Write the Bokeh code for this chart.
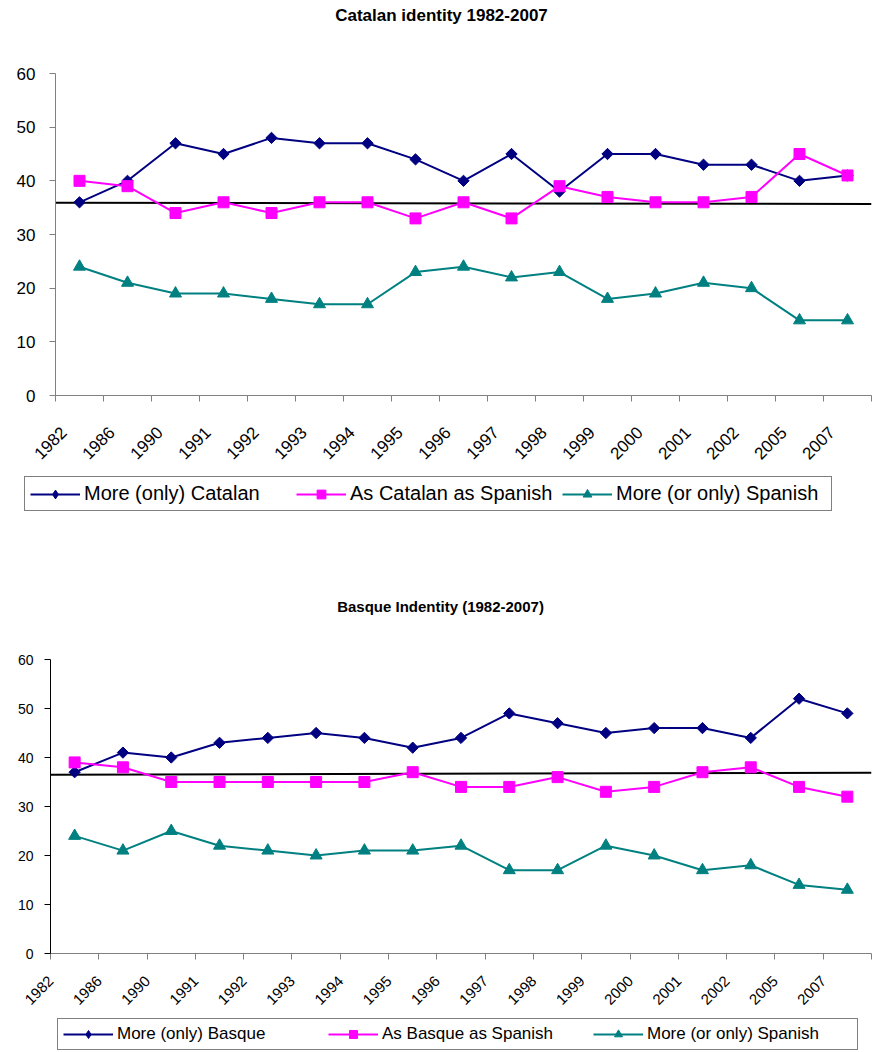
import math
from bokeh.plotting import figure
from bokeh.models import FixedTicker, Legend, LegendItem, Range1d, Label
from bokeh.layouts import column
from bokeh.embed import file_html
from bokeh.resources import INLINE

# ---------------- data ----------------
years = ["1982", "1986", "1990", "1991", "1992", "1993", "1994", "1995", "1996",
         "1997", "1998", "1999", "2000", "2001", "2002", "2005", "2007"]
y_ticks = [0, 10, 20, 30, 40, 50, 60]

cat_title = "Catalan identity 1982-2007"
cat_labels = ["More (only) Catalan", "As Catalan as Spanish", "More (or only) Spanish"]
cat_more_catalan = [36, 40, 47, 45, 48, 47, 47, 44, 40, 45, 38, 45, 45, 43, 43, 40, 41]
cat_as_catalan_as_spanish = [40, 39, 34, 36, 34, 36, 36, 33, 36, 33, 39, 37, 36, 36, 37, 45, 41]
cat_more_spanish = [24, 21, 19, 19, 18, 17, 17, 23, 24, 22, 23, 18, 19, 21, 20, 14, 14]
cat_ref_line = [35.9, 35.7]

bas_title = "Basque Indentity (1982-2007)"
bas_labels = ["More (only) Basque", "As Basque as Spanish", "More (or only) Spanish"]
bas_more_basque = [37, 41, 40, 43, 44, 45, 44, 42, 44, 49, 47, 45, 46, 46, 44, 52, 49]
bas_as_basque_as_spanish = [39, 38, 35, 35, 35, 35, 35, 37, 34, 34, 36, 33, 34, 37, 38, 34, 32]
bas_more_spanish = [24, 21, 25, 22, 21, 20, 21, 21, 22, 17, 17, 22, 20, 17, 18, 14, 13]
bas_ref_line = [36.5, 36.9]

# ---------------- styling ----------------
FONT = "Liberation Sans"
NAVY = "#000080"
MAGENTA = "#FF00FF"
TEAL = "#008080"
STYLES = [
    dict(color=NAVY, marker="square", size=8, angle=math.pi / 4, leg_marker="diamond"),
    dict(color=MAGENTA, marker="square", size=11, angle=0, leg_marker="square"),
    dict(color=TEAL, marker="triangle", size=12, angle=0, leg_marker="triangle"),
]


def blank_fig(height):
    f = figure(width=876, height=height, output_backend="svg", toolbar_location=None,
               title=None, x_range=Range1d(0, 1), y_range=Range1d(0, 1),
               x_axis_type=None, y_axis_type=None, frame_align=False,
               min_border_left=0, min_border_right=0, min_border_top=0, min_border_bottom=0)
    f.xgrid.visible = False
    f.ygrid.visible = False
    f.outline_line_color = None
    f.border_fill_color = "white"
    return f


def add_title(f, text, x, y, size):
    f.add_layout(Label(x=x, y=y, x_units="screen", y_units="screen", text=text,
                       text_align="center", text_baseline="middle",
                       text_font=FONT, text_font_style="bold",
                       text_font_size=size, text_color="black"))


def make_chart(series, ref_line, cfg):
    n = len(years)
    unit = 100
    xs = [i * unit for i in range(n)]
    bounds = [i * unit - unit // 2 for i in range(n + 1)]
    label_pos = [i * unit - unit // 2 + cfg["label_shift"] for i in range(n)]

    p = figure(width=876, height=cfg["height"], output_backend="svg",
               toolbar_location=None, title=None, frame_align=False,
               x_range=Range1d(-unit // 2, n * unit - unit // 2),
               y_range=Range1d(0, 60),
               min_border_left=cfg["left"], min_border_right=cfg["right"],
               min_border_top=cfg["top"], min_border_bottom=cfg["bottom"])
    p.xgrid.visible = False
    p.ygrid.visible = False
    p.outline_line_color = None
    p.background_fill_color = "white"
    p.border_fill_color = "white"

    xa = p.xaxis[0]
    xa.ticker = FixedTicker(ticks=label_pos, minor_ticks=bounds)
    xa.major_label_overrides = {pos: yr for pos, yr in zip(label_pos, years)}
    xa.major_label_orientation = math.pi / 4
    xa.major_tick_out = 0
    xa.major_tick_in = 0
    xa.minor_tick_out = 6
    xa.minor_tick_in = 0
    xa.axis_line_color = cfg["xaxis_color"]
    xa.minor_tick_line_color = cfg["xaxis_color"]
    xa.major_label_text_font = FONT
    xa.major_label_text_font_size = cfg["xlab_size"]
    xa.major_label_text_color = "black"
    xa.major_label_standoff = cfg["xlab_standoff"]

    ya = p.yaxis[0]
    ya.ticker = FixedTicker(ticks=y_ticks)
    ya.major_tick_out = 6
    ya.major_tick_in = 0
    ya.minor_tick_out = 0
    ya.minor_tick_in = 0
    ya.axis_line_color = cfg["yaxis_color"]
    ya.major_tick_line_color = cfg["yaxis_color"]
    ya.major_label_text_font = FONT
    ya.major_label_text_font_size = cfg["ylab_size"]
    ya.major_label_text_color = "black"
    ya.major_label_standoff = cfg["ylab_standoff"]

    p.line([bounds[0], bounds[-1]], ref_line, line_color="black", line_width=2)

    for vals, st in zip(series, STYLES):
        p.line(xs, vals, line_color=st["color"], line_width=2)
        p.scatter(xs, vals, marker=st["marker"], size=st["size"], angle=st["angle"],
                  fill_color=st["color"], line_color=st["color"])
    return p


def add_legend(f, labels, cfg):
    items = []
    for lab, st in zip(labels, STYLES):
        # sample glyphs kept outside the visible range: only their legend swatches show
        lr = f.line([5, 6], [5, 6], line_color=st["color"], line_width=2)
        sr = f.scatter([5], [5], marker=st["leg_marker"], size=st["size"],
                       fill_color=st["color"], line_color=st["color"])
        items.append(LegendItem(label=lab, renderers=[lr, sr]))
    leg = Legend(items=items, orientation="horizontal", location=cfg["legend_loc"],
                 label_text_font=FONT, label_text_font_size=cfg["leg_size"],
                 label_text_color="black",
                 glyph_width=50, glyph_height=cfg["leg_glyph_h"], label_standoff=4,
                 label_width=cfg["leg_label_width"], spacing=cfg["leg_spacing"],
                 padding=cfg["leg_pad"], margin=0,
                 border_line_color="black", border_line_width=1,
                 background_fill_color="white", background_fill_alpha=1.0)
    f.add_layout(leg)


cfg_top = dict(height=430, left=55, right=5, top=33, bottom=75, label_shift=17,
               xaxis_color="#808080", yaxis_color="#808080",
               xlab_size="17px", xlab_standoff=28, ylab_size="17px", ylab_standoff=14,
               legend_loc=(24, 119), leg_size="20px", leg_glyph_h=22, leg_pad=5,
               leg_label_width=210, leg_spacing=2)
cfg_bot = dict(height=385, left=50, right=5, top=29, bottom=62, label_shift=1,
               xaxis_color="#808080", yaxis_color="black",
               xlab_size="15px", xlab_standoff=19, ylab_size="14px", ylab_standoff=11,
               legend_loc=(57, 2), leg_size="17px", leg_glyph_h=20, leg_pad=5,
               leg_label_width=205, leg_spacing=6)

t1 = blank_fig(40)
add_title(t1, cat_title, 441, 25, "17px")

p1 = make_chart([cat_more_catalan, cat_as_catalan_as_spanish, cat_more_spanish],
                cat_ref_line, cfg_top)

l1 = blank_fig(160)
add_legend(l1, cat_labels, cfg_top)
add_title(l1, bas_title, 440, 24, "15px")

p2 = make_chart([bas_more_basque, bas_as_basque_as_spanish, bas_more_spanish],
                bas_ref_line, cfg_bot)

l2 = blank_fig(37)
add_legend(l2, bas_labels, cfg_bot)

layout = column(t1, p1, l1, p2, l2, spacing=0)
open("out.html", "w").write(file_html(layout, INLINE))
